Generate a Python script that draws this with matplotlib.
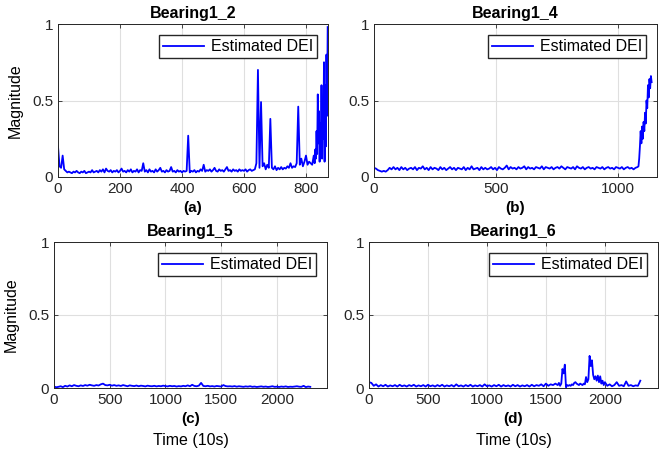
import numpy as np
import matplotlib.pyplot as plt

plt.rcParams['font.family'] = ['Liberation Sans', 'DejaVu Sans']

# Bearing1_2: dense part (step 5) and failure tail (step 2)
b12_main = [0.20, 0.07, 0.06, 0.14, 0.05, 0.04, 0.03, 0.035, 0.03, 0.025,
            0.035, 0.03, 0.04, 0.03, 0.025, 0.035, 0.03, 0.04, 0.025, 0.03,
            0.035, 0.03, 0.045, 0.03, 0.035, 0.04, 0.03, 0.045, 0.035, 0.05,
            0.03, 0.055, 0.04, 0.035, 0.045, 0.03, 0.04, 0.035, 0.045, 0.03,
            0.04, 0.055, 0.035, 0.04, 0.03, 0.045, 0.035, 0.05, 0.03, 0.04,
            0.035, 0.05, 0.03, 0.045, 0.04, 0.09, 0.035, 0.045, 0.03, 0.05,
            0.035, 0.04, 0.03, 0.05, 0.035, 0.045, 0.06, 0.035, 0.04, 0.03,
            0.045, 0.035, 0.04, 0.065, 0.035, 0.04, 0.03, 0.045, 0.035, 0.04,
            0.03, 0.04, 0.035, 0.04, 0.27, 0.03, 0.04, 0.035, 0.045, 0.03,
            0.04, 0.035, 0.05, 0.04, 0.08, 0.035, 0.045, 0.04, 0.05, 0.035,
            0.045, 0.06, 0.04, 0.035, 0.05, 0.04, 0.045, 0.035, 0.05, 0.065,
            0.04, 0.045, 0.035, 0.05, 0.04, 0.045, 0.035, 0.05, 0.04, 0.045,
            0.04, 0.05, 0.035, 0.045, 0.05, 0.04, 0.045, 0.05, 0.09, 0.70,
            0.06, 0.49, 0.07, 0.09, 0.05, 0.08, 0.06, 0.38, 0.06, 0.05,
            0.07, 0.045, 0.06, 0.05, 0.065, 0.05, 0.06, 0.055, 0.07, 0.06,
            0.09, 0.06, 0.07, 0.065, 0.09, 0.46, 0.08, 0.12, 0.07, 0.10,
            0.14, 0.08, 0.10, 0.09, 0.08, 0.14]
b12_tail = [0.09, 0.18, 0.12, 0.30, 0.15, 0.54, 0.22, 0.43, 0.10, 0.35,
            0.18, 0.60, 0.12, 0.45, 0.25, 0.75, 0.10, 0.60, 0.20, 0.80,
            0.40, 0.98]

# Bearing1_4: flat part (step 8) and rise (step 3)
b14_main = [0.06, 0.055, 0.045, 0.04, 0.035, 0.04, 0.035, 0.045, 0.06, 0.05,
            0.065, 0.05, 0.06, 0.045, 0.065, 0.05, 0.06, 0.045, 0.055, 0.06,
            0.05, 0.065, 0.045, 0.06, 0.055, 0.07, 0.05, 0.06, 0.045, 0.065,
            0.05, 0.06, 0.055, 0.045, 0.065, 0.05, 0.06, 0.045, 0.055, 0.065,
            0.05, 0.06, 0.045, 0.06, 0.055, 0.05, 0.065, 0.045, 0.06, 0.05,
            0.07, 0.05, 0.055, 0.06, 0.045, 0.065, 0.05, 0.06, 0.05, 0.055,
            0.065, 0.05, 0.06, 0.045, 0.065, 0.055, 0.05, 0.06, 0.075, 0.05,
            0.065, 0.055, 0.06, 0.05, 0.065, 0.055, 0.06, 0.07, 0.05, 0.065,
            0.055, 0.06, 0.05, 0.065, 0.06, 0.055, 0.07, 0.05, 0.065, 0.06,
            0.055, 0.065, 0.05, 0.06, 0.065, 0.055, 0.07, 0.06, 0.05, 0.065,
            0.06, 0.055, 0.065, 0.05, 0.07, 0.06, 0.055, 0.065, 0.05, 0.06,
            0.065, 0.055, 0.06, 0.05, 0.065, 0.06, 0.055, 0.065, 0.05, 0.06,
            0.065, 0.055, 0.06, 0.05, 0.065, 0.06, 0.055, 0.065, 0.05, 0.06,
            0.065, 0.055, 0.06, 0.05, 0.06, 0.065]
b14_tail = [0.07, 0.12, 0.20, 0.30, 0.22, 0.33, 0.25, 0.36, 0.30, 0.42,
            0.35, 0.50, 0.45, 0.60, 0.52, 0.64, 0.58, 0.66, 0.62]

# Bearing1_5 (step 20)
b15 = [0.01, 0.005, 0.008, 0.012, 0.006, 0.015, 0.01, 0.018, 0.012, 0.02,
       0.015, 0.012, 0.018, 0.014, 0.02, 0.016, 0.022, 0.018, 0.015, 0.02,
       0.017, 0.025, 0.03, 0.02, 0.018, 0.022, 0.016, 0.02, 0.015, 0.018,
       0.014, 0.02, 0.016, 0.012, 0.018, 0.015, 0.013, 0.017, 0.012, 0.016,
       0.014, 0.011, 0.016, 0.013, 0.012, 0.015, 0.011, 0.014, 0.012, 0.016,
       0.013, 0.011, 0.015, 0.012, 0.014, 0.01, 0.013, 0.011, 0.015, 0.012,
       0.018, 0.012, 0.022, 0.014, 0.012, 0.016, 0.035, 0.014, 0.012, 0.015,
       0.011, 0.013, 0.01, 0.014, 0.012, 0.01, 0.02, 0.013, 0.011, 0.012,
       0.01, 0.013, 0.009, 0.012, 0.01, 0.008, 0.011, 0.009, 0.012, 0.008,
       0.01, 0.007, 0.009, 0.011, 0.008, 0.01, 0.007, 0.009, 0.012, 0.008,
       0.009, 0.007, 0.01, 0.008, 0.011, 0.007, 0.009, 0.008, 0.01, 0.012,
       0.009, 0.008, 0.015, 0.006, 0.01, 0.008]

# Bearing1_6: step 20, finer (step 10) around the bursts
b16_a = [0.04, 0.035, 0.015, 0.025, 0.01, 0.02, 0.012, 0.022, 0.01, 0.018,
         0.012, 0.02, 0.01, 0.022, 0.012, 0.018, 0.01, 0.02, 0.013, 0.022,
         0.01, 0.018, 0.012, 0.02, 0.01, 0.022, 0.012, 0.018, 0.01, 0.02,
         0.012, 0.022, 0.01, 0.018, 0.012, 0.02, 0.01, 0.025, 0.012, 0.018,
         0.01, 0.02, 0.012, 0.022, 0.01, 0.018, 0.012, 0.02, 0.01, 0.025,
         0.012, 0.018, 0.01, 0.02, 0.012, 0.022, 0.01, 0.02, 0.012, 0.018,
         0.01, 0.022, 0.012, 0.02, 0.01, 0.018, 0.012, 0.02, 0.01, 0.022,
         0.012, 0.02, 0.015, 0.025, 0.012, 0.03, 0.015, 0.025, 0.02, 0.03]
b16_b = [0.02, 0.035, 0.015, 0.03, 0.13, 0.10, 0.16, 0.005, 0.02, 0.015,
         0.02, 0.015, 0.025, 0.02, 0.035, 0.04, 0.03, 0.025, 0.02, 0.03,
         0.025, 0.02, 0.03, 0.025, 0.075, 0.04, 0.06, 0.22, 0.15, 0.19,
         0.09, 0.06, 0.08, 0.05, 0.085, 0.04, 0.08, 0.03, 0.05, 0.02]
b16_c = [0.04, 0.015, 0.025, 0.012, 0.02, 0.04, 0.015, 0.02, 0.012, 0.045,
         0.015, 0.02, 0.012, 0.018, 0.015, 0.05]

titles = ['Bearing1_2', 'Bearing1_4', 'Bearing1_5', 'Bearing1_6']
letters = ['(a)', '(b)', '(c)', '(d)']

x12 = np.concatenate([np.arange(len(b12_main)) * 5, 828 + np.arange(len(b12_tail)) * 2])
y12 = np.array(b12_main + b12_tail)
x14 = np.concatenate([np.arange(len(b14_main)) * 8, 1084 + np.arange(len(b14_tail)) * 3])
y14 = np.array(b14_main + b14_tail)
x15 = np.arange(len(b15)) * 20
y15 = np.array(b15)
x16 = np.concatenate([np.arange(len(b16_a)) * 20, 1600 + np.arange(len(b16_b)) * 10,
                      2000 + np.arange(len(b16_c)) * 20])
y16 = np.array(b16_a + b16_b + b16_c)

W, H = 659, 453
fig = plt.figure(figsize=(W / 100, H / 100), dpi=100)

# axes boxes in pixels: left, right, top, bottom
boxes = [(58, 328, 24, 177), (374, 657, 24, 177), (54, 327, 242, 388), (369, 658, 242, 388)]
series = [(x12, y12), (x14, y14), (x15, y15), (x16, y16)]
xlims = [871, 1160, 2450, 2450]
xticks = [[0, 200, 400, 600, 800], [0, 500, 1000],
          [0, 500, 1000, 1500, 2000], [0, 500, 1000, 1500, 2000]]
dark = '#262626'

for i in range(4):
    l, r, t, b = boxes[i]
    ax = fig.add_axes([l / W, 1 - b / H, (r - l) / W, (b - t) / H])
    x, y = series[i]
    ax.plot(x, y, color='#0000ff', lw=1.3, label='Estimated DEI')
    ax.set_xlim(0, xlims[i])
    ax.set_ylim(0, 1)
    ax.set_xticks(xticks[i])
    ax.set_yticks([0, 0.5, 1])
    ax.set_yticklabels(['0', '0.5', '1'])
    ax.grid(True, color='#dfdfdf', lw=0.8)
    ax.set_axisbelow(True)
    ax.tick_params(direction='in', length=3, top=True, right=True, colors=dark,
                   labelsize=11, width=0.6)
    for s in ax.spines.values():
        s.set_color(dark)
        s.set_linewidth(0.7)
    ax.set_title(titles[i], fontsize=11.5, fontweight='bold', pad=4)
    ax.legend(loc='upper right', fancybox=False, edgecolor=dark, framealpha=1,
              fontsize=11.5, handlelength=2.6, handletextpad=0.4,
              borderaxespad=0.7, borderpad=0.25)
    ax.text(0.5, -0.205 if i < 2 else -0.215, letters[i], transform=ax.transAxes,
            ha='center', va='center', fontsize=11, fontweight='bold')
    if i % 2 == 0:
        ax.set_ylabel('Magnitude', fontsize=11.5, labelpad=7)
    if i >= 2:
        ax.set_xlabel('Time (10s)', fontsize=11.5, labelpad=19)

fig.savefig('out.png', dpi=100)
